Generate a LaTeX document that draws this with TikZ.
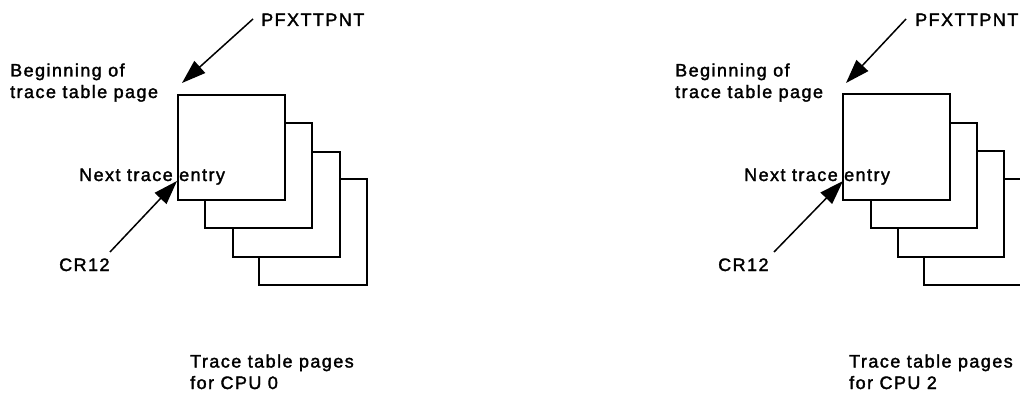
\documentclass[tikz,border=0pt]{standalone}
\usepackage{fontspec}
\setmainfont{Liberation Sans}[LetterSpace=8,FakeBold=1.8]
\usetikzlibrary{arrows.meta}
\tikzset{
  page/.style={draw=black,line width=2.2pt,fill=white},
  ptr/.style={line width=1.5pt,-{Triangle[length=24pt,width=16pt]}},
  lbl/.style={inner sep=0pt,anchor=base west,font=\fontsize{18}{21.5}\selectfont,align=left},
}
\begin{document}
\begin{tikzpicture}[x=1pt,y=-1pt]
\useasboundingbox (0,0) rectangle (1020,393);
\clip (0,0) rectangle (1020,393);
% ---------- left diagram (CPU 0) ----------
\draw[page] (259,179) rectangle (367,285) coordinate (a4);
\draw[page] (233,152) rectangle (340,257) coordinate (a3);
\draw[page] (205,123) rectangle (312,228) coordinate (a2);
\draw[page] (178,95) coordinate (a1tl) rectangle (285,200) coordinate (a1br);
\coordinate (a1tip) at (182,83);
\coordinate (a1cr) at (177,181);
\node[lbl] (apfx) at (261,26) {PFXTTPNT};
\coordinate (apfxs) at (253,19);
\draw[ptr] (apfxs) -- (a1tip);
\node[lbl] (abeg) at (10,98) {Beginning of\\trace table page};
\node[lbl] (anext) at (79,181) {Next trace entry};
\node[lbl] (acr) at (59,271) {CR12};
\coordinate (acrs) at (110,252);
\draw[ptr] (acrs) -- (a1cr);
\node[lbl] (acap) at (190,389) {Trace table pages\\for CPU 0};
% ---------- right diagram (CPU 2) ----------
\draw[page] (924,179) rectangle (1032,285) coordinate (b4);
\draw[page] (898,151) rectangle (1004,257) coordinate (b3);
\draw[page] (871,123) rectangle (977,228) coordinate (b2);
\draw[page] (843,94) coordinate (b1tl) rectangle (950,200) coordinate (b1br);
\coordinate (b1tip) at (846,83);
\coordinate (b1cr) at (843,181);
\node[lbl] (bpfx) at (915,26) {PFXTTPNT};
\coordinate (bpfxs) at (906,19);
\draw[ptr] (bpfxs) -- (b1tip);
\node[lbl] (bbeg) at (675,98) {Beginning of\\trace table page};
\node[lbl] (bnext) at (744,181) {Next trace entry};
\node[lbl] (bcr) at (718,271) {CR12};
\coordinate (bcrs) at (774,252);
\draw[ptr] (bcrs) -- (b1cr);
\node[lbl] (bcap) at (849,389) {Trace table pages\\for CPU 2};
\end{tikzpicture}
\end{document}
